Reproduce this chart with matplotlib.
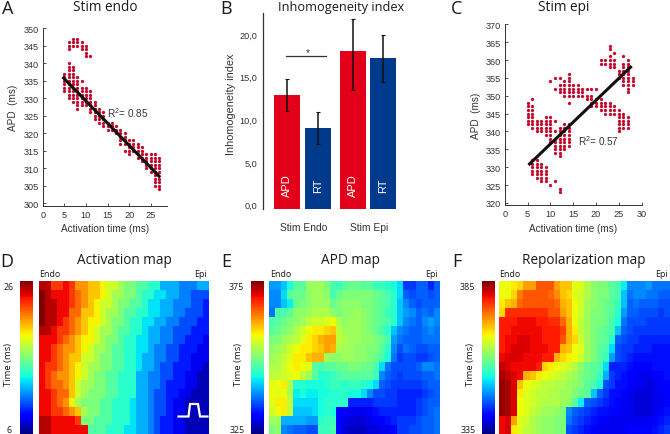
import matplotlib
matplotlib.use("Agg")
import matplotlib.pyplot as plt
import numpy as np

W, H = 670, 435
DOT_RED = "#C4092A"
BAR_RED = "#E2001A"
BAR_BLUE = "#003A8C"
AXIS = "#333333"

plt.rcParams["font.family"] = ["Liberation Sans", "DejaVu Sans"]
plt.rcParams["mathtext.default"] = "regular"

# panel A: activation time -> APD values in each column of dots
endo_x = [5, 6, 7, 8, 9, 10, 11, 12, 13, 14, 15, 16, 17, 18, 19, 20, 21, 22, 23, 24, 25, 26, 27]
endo_apd = [
    [332, 333, 334, 335, 336, 337],
    [330, 331, 332, 333, 334, 335, 336, 337, 338, 339, 340, 344, 345, 346],
    [329, 330, 331, 332, 333, 334, 335, 336, 337, 338, 339, 345, 346, 347],
    [327, 328, 329, 330, 331, 332, 333, 334, 335, 336, 345, 346, 347],
    [328, 329, 330, 331, 332, 333, 335, 344, 345, 346],
    [328, 329, 330, 331, 332, 333, 342, 343, 344, 345],
    [326, 327, 328, 329, 330, 331, 332, 342],
    [324, 325, 326, 327, 328, 329],
    [323, 324, 325, 326, 327],
    [322, 323, 324, 325, 326],
    [321, 322, 323],
    [321, 322, 323],
    [320, 321, 322],
    [317, 318, 319, 320, 321],
    [315, 317, 318, 319, 320],
    [314, 315, 316, 317, 318],
    [315, 316, 317, 318],
    [313, 314, 315, 316, 317],
    [312, 313, 314, 315, 316],
    [310, 311, 312, 313, 314],
    [309, 310, 311, 312, 313, 314],
    [305, 306, 307, 308, 309, 310, 311, 312, 313, 314],
    [304, 305, 306, 307, 309, 310, 311, 312, 313],
]
endo_fit_x = [4.6, 27.2]
endo_fit_y = [336.1, 307.4]

# panel C
epi_x = [5, 6, 7, 8, 9, 10, 11, 12, 13, 14, 15, 16, 17, 18, 19, 20, 21, 22, 23, 24, 25, 26, 27, 28]
epi_apd = [
    [342, 343, 344, 345, 346, 347, 348],
    [328, 329, 330, 331, 332, 341, 342, 343, 344, 345, 346, 347, 349],
    [327, 328, 329, 330, 331, 332, 340, 341, 342, 343],
    [326, 327, 328, 329, 330, 331, 340, 341, 342, 343],
    [326, 327, 328, 329, 330, 339, 340, 341, 342, 343, 344],
    [325, 337, 338, 339, 340, 341, 342, 343, 344, 354],
    [326, 334, 335, 336, 337, 338, 340, 343, 352, 355],
    [323, 324, 333, 334, 335, 336, 337, 338, 339, 340, 341, 351, 352, 353, 355],
    [335, 336, 337, 338, 339, 340, 341, 342, 350, 351, 352, 353, 354],
    [336, 337, 338, 339, 340, 341, 342, 348, 350, 351, 352, 353, 354, 355, 356],
    [350, 351, 352, 353],
    [350, 351, 352, 353],
    [350, 351, 352],
    [349, 350, 352],
    [347, 348, 349, 350, 352],
    [347, 348, 349, 352],
    [346, 347, 348, 349, 359, 360],
    [345, 346, 347, 348, 359, 360],
    [345, 346, 347, 348, 358, 359, 360, 361, 363, 364],
    [345, 346, 347, 358, 359, 360, 362],
    [340, 341, 342, 343, 344, 345, 346, 355, 356, 357],
    [341, 342, 343, 344, 345, 353, 354, 355, 356, 357, 358, 359, 361],
    [341, 342, 343, 344, 351, 352, 353, 354, 355, 356, 357, 358, 359, 360],
    [353, 354, 355],
]
epi_fit_x = [5.2, 27.8]
epi_fit_y = [330.6, 358.3]

# panel B
bar_labels = ["APD", "RT", "APD", "RT"]
bar_values = [12.85, 9.0, 17.97, 17.2]
err_low = [1.85, 1.85, 4.55, 2.8]
err_high = [1.9, 1.9, 3.75, 2.7]
index_ticks = [0, 5, 10, 15, 20]
index_tick_labels = ["0,0", "5,0", "10,0", "15,0", "20,0"]

# panel D, activation time (ms), top row first
activation_map = [
    [25, 25, 23, 23, 24, 23, 21, 21, 20, 20, 19, 18, 18, 17, 16, 16, 15, 15, 14, 14, 12, 12, 12, 11, 11, 11, 12, 12],
    [26, 25, 24, 24, 24, 23, 22, 21, 20, 20, 19, 18, 17, 17, 16, 16, 15, 14, 14, 13, 13, 12, 12, 11, 11, 10, 10, 10],
    [26, 25, 25, 24, 24, 23, 22, 21, 20, 19, 18, 18, 17, 16, 16, 15, 15, 14, 13, 13, 12, 12, 11, 11, 11, 10, 10, 9],
    [26, 25, 25, 24, 24, 22, 22, 20, 20, 19, 18, 17, 17, 16, 15, 15, 14, 14, 13, 13, 12, 12, 11, 11, 10, 10, 10, 9],
    [26, 25, 25, 24, 23, 22, 21, 20, 19, 19, 18, 17, 16, 16, 15, 14, 14, 13, 13, 12, 12, 11, 11, 10, 10, 10, 9, 9],
    [25, 25, 24, 23, 23, 22, 21, 20, 19, 18, 17, 17, 16, 15, 15, 14, 14, 13, 12, 12, 11, 11, 10, 10, 10, 9, 9, 9],
    [24, 24, 24, 23, 22, 21, 20, 19, 19, 18, 17, 16, 16, 15, 14, 14, 13, 13, 12, 12, 11, 11, 10, 10, 9, 9, 9, 8],
    [24, 24, 23, 22, 21, 21, 20, 19, 18, 17, 17, 16, 15, 15, 14, 14, 13, 13, 12, 11, 11, 10, 10, 9, 9, 9, 8, 8],
    [24, 24, 23, 22, 21, 20, 20, 18, 18, 17, 16, 16, 15, 15, 14, 14, 13, 12, 12, 11, 11, 10, 10, 9, 9, 8, 8, 8],
    [24, 23, 23, 22, 21, 20, 19, 18, 17, 17, 16, 16, 15, 15, 14, 14, 13, 12, 12, 11, 10, 10, 9, 9, 9, 8, 8, 7],
    [24, 23, 22, 21, 21, 20, 19, 18, 17, 16, 16, 15, 15, 14, 14, 14, 12, 12, 11, 11, 10, 10, 9, 9, 8, 8, 7, 7],
    [24, 23, 22, 22, 21, 20, 18, 17, 17, 16, 16, 15, 15, 14, 14, 14, 12, 12, 11, 11, 10, 9, 9, 9, 8, 8, 7, 7],
    [24, 24, 23, 22, 22, 20, 18, 17, 16, 16, 16, 15, 15, 14, 14, 14, 12, 12, 11, 10, 10, 9, 9, 8, 8, 7, 7, 7],
    [24, 24, 23, 22, 21, 19, 17, 16, 16, 16, 15, 15, 14, 14, 14, 13, 12, 12, 11, 10, 10, 9, 8, 8, 7, 7, 7, 7],
    [24, 24, 23, 23, 22, 21, 20, 17, 16, 16, 15, 15, 14, 14, 14, 13, 12, 12, 11, 10, 10, 9, 8, 8, 7, 7, 7, 7],
    [25, 25, 24, 24, 24, 24, 23, 16, 16, 15, 15, 15, 14, 14, 14, 13, 12, 12, 11, 10, 9, 9, 8, 8, 7, 7, 7, 7],
    [25, 25, 24, 24, 24, 24, 24, 24, 15, 15, 15, 14, 14, 14, 13, 13, 12, 12, 11, 10, 9, 9, 8, 8, 7, 7, 7, 7],
]

# panel E, APD (ms)
apd_map = [
    [339, 339, 341, 344, 348, 348, 352, 352, 352, 350, 347, 346, 348, 349, 349, 348, 348, 346, 346, 345, 344, 342, 334, 334, 336, 336, 333, 336],
    [338, 338, 342, 348, 349, 349, 351, 352, 352, 351, 347, 349, 350, 350, 350, 350, 350, 349, 348, 347, 345, 342, 336, 335, 336, 336, 335, 336],
    [338, 338, 341, 343, 349, 350, 351, 352, 352, 352, 349, 350, 351, 351, 351, 350, 350, 349, 348, 347, 345, 341, 338, 336, 335, 336, 336, 336],
    [337, 347, 347, 348, 351, 351, 352, 353, 353, 353, 351, 350, 351, 351, 352, 351, 350, 349, 348, 346, 345, 341, 339, 338, 336, 337, 336, 338],
    [347, 348, 349, 350, 351, 352, 354, 355, 355, 356, 357, 353, 351, 352, 352, 351, 350, 349, 348, 347, 345, 341, 338, 337, 336, 338, 339, 338],
    [348, 349, 350, 351, 353, 355, 357, 358, 358, 359, 360, 354, 352, 352, 352, 351, 350, 349, 347, 345, 341, 338, 337, 336, 336, 337, 338, 337],
    [350, 350, 352, 353, 354, 356, 358, 359, 361, 362, 362, 354, 353, 352, 352, 351, 351, 350, 349, 347, 339, 337, 336, 336, 336, 337, 337, 337],
    [351, 352, 353, 355, 357, 358, 358, 359, 360, 362, 361, 353, 352, 352, 351, 351, 350, 350, 348, 345, 338, 335, 337, 336, 335, 335, 336, 336],
    [352, 353, 354, 356, 358, 358, 360, 361, 361, 352, 351, 351, 352, 352, 351, 351, 350, 349, 347, 344, 337, 334, 335, 335, 334, 334, 335, 336],
    [353, 353, 355, 357, 358, 357, 356, 348, 347, 348, 348, 349, 349, 350, 350, 349, 349, 347, 342, 337, 335, 335, 335, 335, 336, 338, 338, 337],
    [354, 354, 355, 356, 357, 354, 352, 348, 345, 345, 346, 347, 348, 348, 348, 348, 348, 346, 338, 336, 335, 334, 335, 335, 335, 336, 336, 337],
    [356, 357, 358, 353, 345, 345, 344, 344, 344, 345, 346, 346, 345, 346, 346, 345, 344, 342, 336, 335, 334, 334, 334, 334, 334, 335, 336, 336],
    [357, 356, 357, 353, 343, 344, 343, 343, 344, 344, 345, 345, 345, 344, 344, 342, 338, 335, 335, 334, 334, 333, 333, 333, 333, 334, 335, 336],
    [356, 358, 358, 354, 342, 342, 342, 342, 344, 345, 345, 345, 345, 333, 333, 333, 333, 334, 334, 334, 334, 333, 333, 333, 334, 335, 336, 336],
    [355, 357, 358, 354, 341, 341, 341, 342, 344, 345, 344, 331, 331, 330, 330, 330, 331, 332, 333, 333, 333, 333, 333, 333, 334, 335, 336, 337],
    [352, 352, 340, 340, 340, 340, 339, 339, 345, 346, 346, 331, 330, 329, 329, 329, 330, 331, 331, 332, 333, 334, 334, 334, 335, 336, 336, 337],
    [350, 351, 338, 337, 336, 336, 335, 335, 346, 346, 347, 331, 329, 328, 328, 328, 329, 329, 330, 330, 331, 334, 334, 335, 335, 336, 336, 337],
]

# panel F, repolarization time (ms)
repol_map = [
    [367, 367, 368, 369, 372, 372, 376, 376, 376, 372, 370, 370, 366, 366, 363, 361, 360, 360, 358, 357, 353, 348, 348, 348, 349, 347, 347, 347],
    [367, 367, 369, 374, 376, 376, 376, 376, 375, 373, 370, 369, 366, 365, 363, 361, 360, 360, 358, 357, 351, 347, 348, 348, 347, 347, 346, 346],
    [368, 370, 371, 375, 376, 376, 376, 376, 376, 375, 371, 370, 367, 365, 362, 361, 360, 359, 358, 356, 351, 346, 347, 346, 346, 346, 345, 345],
    [369, 378, 378, 378, 378, 378, 378, 378, 376, 376, 372, 370, 367, 365, 362, 360, 360, 359, 358, 355, 349, 346, 346, 345, 345, 345, 344, 345],
    [379, 379, 379, 380, 380, 380, 379, 379, 378, 378, 375, 371, 367, 364, 362, 360, 360, 359, 357, 354, 347, 345, 345, 345, 344, 344, 344, 344],
    [379, 379, 380, 380, 380, 380, 380, 379, 379, 379, 377, 371, 368, 364, 362, 360, 359, 358, 357, 351, 346, 345, 344, 344, 344, 344, 344, 344],
    [379, 380, 380, 381, 381, 380, 380, 379, 379, 379, 376, 371, 369, 365, 362, 360, 359, 358, 355, 346, 345, 344, 344, 343, 343, 343, 343, 343],
    [379, 380, 381, 381, 381, 380, 380, 380, 379, 379, 371, 370, 367, 366, 362, 360, 358, 357, 352, 345, 344, 344, 343, 343, 343, 342, 342, 342],
    [380, 381, 381, 381, 380, 380, 380, 379, 379, 371, 369, 368, 367, 365, 362, 360, 358, 356, 349, 345, 344, 343, 342, 342, 342, 342, 342, 342],
    [382, 381, 380, 380, 380, 380, 379, 369, 368, 367, 366, 365, 363, 361, 359, 358, 357, 352, 343, 343, 343, 342, 341, 341, 341, 342, 342, 342],
    [383, 382, 381, 380, 371, 370, 368, 367, 366, 365, 364, 363, 362, 360, 359, 358, 356, 350, 344, 343, 342, 341, 341, 340, 340, 341, 341, 342],
    [384, 383, 381, 370, 367, 366, 365, 364, 364, 363, 363, 362, 361, 360, 358, 357, 354, 345, 344, 342, 342, 341, 340, 340, 339, 340, 341, 341],
    [384, 383, 381, 368, 366, 365, 364, 364, 363, 363, 362, 362, 360, 359, 358, 351, 346, 344, 342, 342, 341, 340, 339, 339, 339, 340, 340, 341],
    [384, 383, 381, 367, 366, 365, 364, 363, 363, 363, 362, 361, 358, 353, 346, 345, 344, 343, 342, 341, 340, 340, 339, 339, 339, 340, 340, 341],
    [384, 383, 381, 367, 366, 364, 363, 362, 362, 361, 360, 348, 346, 345, 344, 343, 342, 342, 341, 341, 340, 340, 339, 339, 339, 340, 341, 342],
    [380, 381, 372, 366, 365, 363, 362, 361, 361, 360, 360, 347, 345, 344, 343, 342, 341, 341, 340, 340, 340, 340, 340, 340, 340, 341, 342, 343],
    [380, 381, 368, 366, 364, 363, 362, 361, 361, 360, 360, 345, 344, 343, 342, 341, 340, 340, 340, 340, 340, 341, 341, 341, 341, 342, 343, 344],
]

pulse_x = [178.5, 188.5, 190, 198, 200, 207.5]
pulse_y = [417.5, 417.5, 405, 405, 417.5, 417.5]


def px_axes(fig, left, top, right, bottom):
    return fig.add_axes([left / W, 1 - bottom / H, (right - left) / W, (bottom - top) / H])


def px_text(fig, x, y, s, **kw):
    kw.setdefault("ha", "center")
    kw.setdefault("va", "center")
    return fig.text(x / W, 1 - y / H, s, **kw)


def scatter_panel(fig, box, xlim, ylim, xticks, yticks, columns, values, fit_x, fit_y):
    ax = px_axes(fig, *box)
    for x, ys in zip(columns, values):
        ax.scatter([x] * len(ys), ys, s=5.5, color=DOT_RED, linewidths=0, zorder=2)
    ax.plot(fit_x, fit_y, color="#111111", lw=2.2, zorder=3, solid_capstyle="butt")
    ax.set_xlim(*xlim)
    ax.set_ylim(*ylim)
    ax.set_xticks(xticks)
    ax.set_yticks(yticks)
    ax.tick_params(direction="in", length=2, width=0.6, labelsize=6.6, colors=AXIS, pad=3)
    ax.spines[["top", "right"]].set_visible(False)
    ax.spines[["left", "bottom"]].set_linewidth(0.7)
    ax.spines[["left", "bottom"]].set_color(AXIS)
    ax.patch.set_alpha(0)
    return ax


def map_panel(fig, bar_box, map_box, data, vmin, vmax):
    ax = px_axes(fig, *map_box)
    im = ax.imshow(data, cmap="jet", vmin=vmin, vmax=vmax, aspect="auto", interpolation="nearest")
    ax.axis("off")
    cax = px_axes(fig, *bar_box)
    cb = fig.colorbar(im, cax=cax)
    cb.outline.set_visible(False)
    cb.set_ticks([])
    return ax


fig = plt.figure(figsize=(W / 100, H / 100), dpi=100)

title_font = dict(family=["Open Sans", "DejaVu Sans"], color="#1a1a1a")
small_font = dict(family=["Open Sans", "DejaVu Sans"], color="#1a1a1a")

# top row
scatter_panel(fig, (42.7, 29.3, 166.7, 206.7), (0, 28.7), (299.3, 350),
              [0, 5, 10, 15, 20, 25], list(range(300, 351, 5)),
              endo_x, endo_apd, endo_fit_x, endo_fit_y)
scatter_panel(fig, (504.7, 25.3, 641.7, 206), (0, 29.6), (319.4, 370),
              [0, 5, 10, 15, 20, 25, 30], list(range(320, 371, 5)),
              epi_x, epi_apd, epi_fit_x, epi_fit_y)

ax = px_axes(fig, 262.7, 14, 397.9, 210)
bar_pos = [0, 1, 2.14, 3.13]
bars = ax.bar(bar_pos, [v + 0.5 for v in bar_values], bottom=-0.5, width=0.84,
              color=[BAR_RED, BAR_BLUE, BAR_RED, BAR_BLUE], linewidth=0)
ax.errorbar(bar_pos, bar_values, yerr=[err_low, err_high], fmt="none", ecolor="#111111",
            elinewidth=1.1, capsize=1.2, capthick=0.8)
for p, label in zip(bar_pos, bar_labels):
    ax.text(p, 2.35, label, rotation=90, color="white", ha="center", va="center", fontsize=8)
ax.set_xlim(-0.79, 3.6)
ax.set_ylim(-0.51, 22.46)
ax.set_xticks([])
ax.set_yticks(index_ticks)
ax.set_yticklabels(index_tick_labels)
ax.tick_params(length=0, labelsize=6.6, colors=AXIS, pad=4)
ax.spines[["top", "right", "bottom"]].set_visible(False)
ax.spines["left"].set_linewidth(0.9)
ax.spines["left"].set_color(AXIS)
ax.patch.set_alpha(0)
ax.plot([-0.03, 1.27], [17.4, 17.4], color="#333333", lw=0.9)
px_text(fig, 308, 53.5, "*", fontsize=7, color=AXIS)

px_text(fig, 304, 228, "Stim Endo", fontsize=7.4, color=AXIS)
px_text(fig, 369, 228, "Stim Epi", fontsize=7.4, color=AXIS)
px_text(fig, 231, 104, "Inhomogeneity index", fontsize=7.8, color=AXIS, rotation=90)

px_text(fig, 105, 229, "Activation time (ms)", fontsize=7.2, color=AXIS)
px_text(fig, 573, 229, "Activation time (ms)", fontsize=7.2, color=AXIS)
px_text(fig, 13, 108, "APD  (ms)", fontsize=7.2, color=AXIS, rotation=90)
px_text(fig, 476, 116, "APD  (ms)", fontsize=7.2, color=AXIS, rotation=90)
px_text(fig, 128, 113, "R$^{2}$= 0.85", fontsize=7.2, color=AXIS)
px_text(fig, 598, 141, "R$^{2}$= 0.57", fontsize=7.2, color=AXIS)

px_text(fig, 105, 7.5, "Stim endo", fontsize=9.8, **title_font)
px_text(fig, 341, 7.5, "Inhomogeneity index", fontsize=9.2, **title_font)
px_text(fig, 564, 7.5, "Stim epi", fontsize=9.8, **title_font)

# bottom row
map_panel(fig, (20.3, 282, 33.3, 435), (38.7, 282, 208.7, 435), activation_map, 6, 26)
map_panel(fig, (251.3, 282, 264.3, 435), (269.3, 282, 440, 435), apd_map, 325, 375)
map_panel(fig, (482.3, 282, 495.3, 435), (499, 282, 670, 435), repol_map, 335, 385)

overlay = px_axes(fig, 0, 0, W, H)
overlay.set_xlim(0, W)
overlay.set_ylim(H, 0)
overlay.axis("off")
overlay.plot(pulse_x, pulse_y, color="white", lw=1.6, solid_joinstyle="miter")

px_text(fig, 124, 260.5, "Activation map", fontsize=9.8, **title_font)
px_text(fig, 350.7, 260.5, "APD map", fontsize=9.8, **title_font)
px_text(fig, 583.3, 260.5, "Repolarization map", fontsize=9.8, **title_font)

for left, right in [(39.5, 207), (270.5, 438), (499, 668)]:
    px_text(fig, left, 274.5, "Endo", fontsize=6.4, ha="left", **small_font)
    px_text(fig, right, 274.5, "Epi", fontsize=6.4, ha="right", **small_font)

for x_tick, x_label, top_label, bottom_label in [
    (9, 8, "26", "6"),
    (236.7, 239, "375", "325"),
    (467.7, 470, "385", "335"),
]:
    px_text(fig, x_tick, 287.5, top_label, fontsize=6.4, **small_font)
    px_text(fig, x_tick, 431, bottom_label, fontsize=6.4, **small_font)
    px_text(fig, x_label, 365, "Time (ms)", fontsize=6.8, rotation=90, **small_font)

for x, y, letter in [(8, 8.5, "A"), (226, 8.5, "B"), (457, 8.5, "C"), (6.5, 262, "D"), (226, 262, "E"), (457, 262, "F")]:
    px_text(fig, x, y, letter, fontsize=13, **title_font)

fig.savefig("out.png", dpi=100)
